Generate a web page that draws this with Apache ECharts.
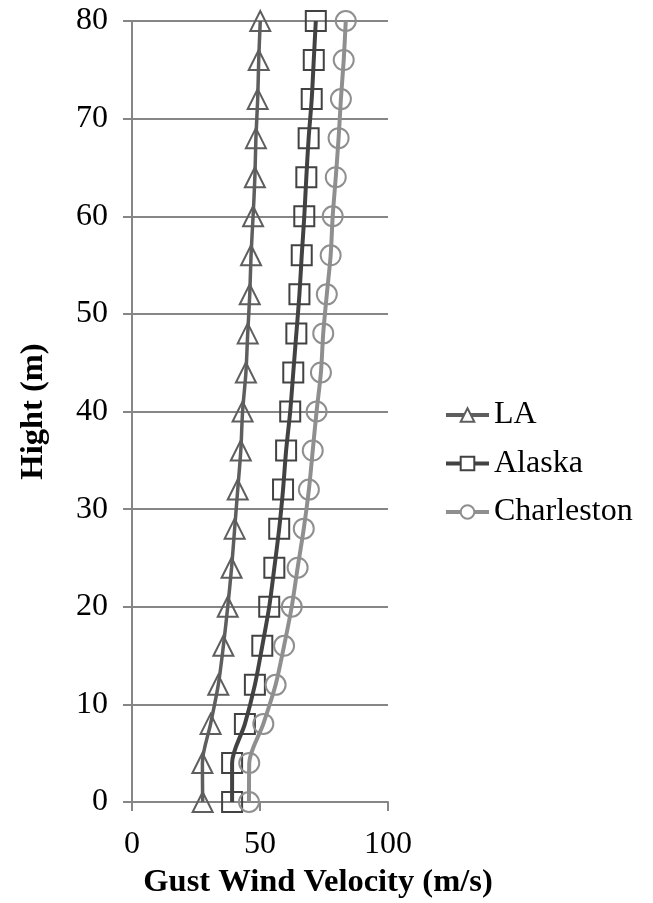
<!DOCTYPE html>
<html>
<head>
<meta charset="utf-8">
<script src="https://cdn.jsdelivr.net/npm/echarts@6/dist/echarts.min.js"></script>
<style>
html,body{margin:0;padding:0;background:#fff;}
#chart{width:653px;height:903px;}
</style>
</head>
<body>
<div id="chart"></div>
<script>
const heights = [0, 4, 8, 12, 16, 20, 24, 28, 32, 36, 40, 44, 48, 52, 56, 60, 64, 68, 72, 76, 80];
const laValues = [27.6, 27.5, 30.7, 33.7, 35.7, 37.4, 38.9, 40.1, 41.3, 42.5, 43.2, 44.5, 45.2, 46.0, 46.5, 47.3, 48.0, 48.4, 49.1, 49.5, 50.1];
const alaskaValues = [39.1, 39.1, 44.1, 48.0, 50.9, 53.6, 55.6, 57.5, 59.0, 60.2, 61.8, 63.0, 64.2, 65.4, 66.3, 67.3, 68.1, 69.0, 70.2, 71.0, 71.8];
const charlestonValues = [45.7, 45.8, 51.3, 56.1, 59.4, 62.4, 64.7, 67.1, 69.1, 70.6, 72.1, 73.8, 74.7, 76.1, 77.6, 78.4, 79.6, 80.7, 81.6, 82.7, 83.5];
const seriesNames = ['LA', 'Alaska', 'Charleston'];
const xTitle = 'Gust Wind Velocity (m/s)';
const yTitle = 'Hight (m)';

const FONT = '"Liberation Serif", "Times New Roman", serif';
const pairs = vals => vals.map((v, i) => [v, heights[i]]);
const colors = ['#5e5e5e', '#424242', '#8f8f8f'];

function mk(name, vals, color, symbol, lw) {
  return {
    name: name,
    type: 'line',
    data: pairs(vals),
    smooth: 0.3,
    clip: false,
    symbol: symbol,
    symbolSize: 20,
    showAllSymbol: true,
    lineStyle: { color: color, width: lw },
    itemStyle: { color: 'rgba(255,255,255,0)', borderColor: color, borderWidth: 2 },
    emphasis: { disabled: true }
  };
}

const chart = echarts.init(document.getElementById('chart'), null, { renderer: 'canvas' });
chart.setOption({
  animation: false,
  backgroundColor: '#fff',
  grid: { left: 132, top: 21, width: 256, height: 781, containLabel: false, outerBoundsMode: 'none' },
  legend: {
    orient: 'vertical',
    left: 444,
    top: 399,
    padding: 0,
    itemWidth: 43,
    itemHeight: 17,
    itemGap: 16.5,
    textStyle: { fontFamily: FONT, fontSize: 32, color: '#000' },
    data: seriesNames.map((n, i) => ({
      name: n,
      lineStyle: { width: 4, color: colors[i] },
      itemStyle: { color: '#fff', borderColor: colors[i], borderWidth: 2 }
    }))
  },
  xAxis: {
    type: 'value',
    min: 0, max: 100, interval: 50,
    name: xTitle,
    nameLocation: 'middle',
    nameGap: 64,
    nameTextStyle: { fontFamily: FONT, fontSize: 32.5, fontWeight: 'bold', color: '#000', padding: [0, 0, 0, 116] },
    axisLine: { show: true, lineStyle: { color: '#868686', width: 2 } },
    axisTick: { show: true, length: 9, lineStyle: { color: '#868686', width: 2 } },
    axisLabel: { fontFamily: FONT, fontSize: 32, color: '#000', margin: 27 },
    splitLine: { show: false }
  },
  yAxis: {
    type: 'value',
    min: 0, max: 80, interval: 10,
    name: yTitle,
    nameLocation: 'middle',
    nameGap: 82,
    nameRotate: 90,
    nameTextStyle: { fontFamily: FONT, fontSize: 32.5, fontWeight: 'bold', color: '#000' },
    axisLine: { show: true, lineStyle: { color: '#868686', width: 2 } },
    axisTick: { show: true, length: 9, lineStyle: { color: '#868686', width: 2 } },
    axisLabel: { fontFamily: FONT, fontSize: 32, color: '#000', margin: 24 },
    splitLine: { show: true, lineStyle: { color: '#868686', width: 2 } }
  },
  series: [
    mk(seriesNames[0], laValues, colors[0], 'triangle', 3.5),
    mk(seriesNames[1], alaskaValues, colors[1], 'rect', 4),
    mk(seriesNames[2], charlestonValues, colors[2], 'circle', 4)
  ]
});
</script>
</body>
</html>
